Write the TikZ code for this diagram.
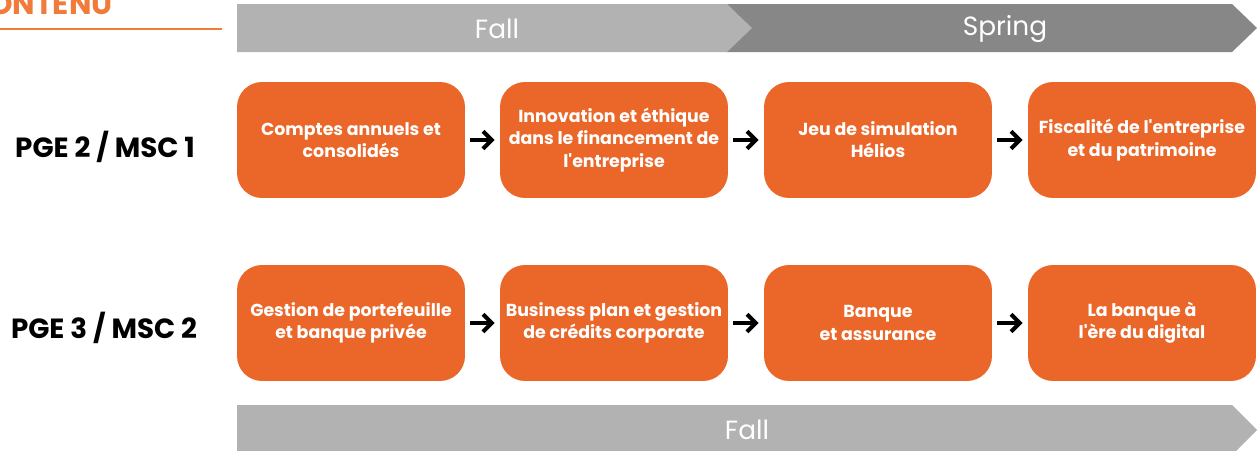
\documentclass[tikz,border=0pt]{standalone}
\usepackage{fontspec}
\setmainfont{Poppins}
\usetikzlibrary{arrows.meta}
\definecolor{boxorange}{HTML}{EA6629}
\definecolor{titleorange}{HTML}{F07B3B}
\definecolor{fallgray}{HTML}{B2B2B2}
\definecolor{springgray}{HTML}{878787}
\newcommand{\apos}{\textquotesingle}
\begin{document}
\begin{tikzpicture}[x=0.02cm, y=-0.02cm,
   box_style/.style={rectangle, rounded corners=0.5cm, fill=boxorange, text=white,
     minimum width=4.56cm, minimum height=2.32cm, align=center,
     font=\fontsize{9.9}{12.6}\selectfont\bfseries, inner sep=1pt},
   row_style/.style={font=\fontsize{15.8}{18}\selectfont\bfseries, text=black},
   bar_text/.style={text=white, font=\fontsize{15}{18}\selectfont},
   arrow_style/.style={draw=black, line width=2.3pt, shorten <=0.1cm, shorten >=0.1cm,
     -{Straight Barb[length=5pt, width=10pt, line width=2.3pt]}}]
	  \useasboundingbox (0,0) rectangle (1257,450);

	  % title
	  \node [anchor=base east, text=titleorange, font=\fontsize{17}{20}\selectfont\bfseries, inner sep=0pt] (title) at (113,14) {CONTENU};
	  \draw [titleorange, line width=1.7pt] (0,29) -- (222,29);

	  % semesters
	  \fill [fallgray] (237,4) -- (727,4) -- (752,28) -- (727,52) -- (237,52) -- cycle;
	  \fill [springgray] (727,4) -- (1232,4) -- (1257,28) -- (1232,52) -- (727,52) -- (752,28) -- cycle;
	  \node [bar_text] (fall1) at (497,29) {Fall};
	  \node [bar_text] (spring) at (1005,29) {Spring};
	  \fill [fallgray] (237,405) -- (1232,405) -- (1257,430) -- (1232,455) -- (237,455) -- cycle;
	  \node [bar_text] (fall2) at (747,430) {Fall};

	  % rows
	  \node [row_style] (r1) at (105,147) {PGE 2 / MSC 1};
	  \node [row_style] (r2) at (104,328) {PGE 3 / MSC 2};

	  \node [box_style] (a1) at (351,140) {Comptes annuels et\\consolidés};
	  \node [box_style] (a2) at (614,140) {Innovation et éthique\\dans le financement de\\l\apos entreprise};
	  \node [box_style] (a3) at (878,140) {Jeu de simulation\\Hélios};
	  \node [box_style] (a4) at (1142,140) {Fiscalité de l\apos entreprise\\et du patrimoine};

	  \node [box_style] (b1) at (351,323) {Gestion de portefeuille\\et banque privée};
	  \node [box_style] (b2) at (614,323) {Business plan et gestion\\de crédits corporate};
	  \node [box_style] (b3) at (878,323) {Banque\\et assurance};
	  \node [box_style] (b4) at (1142,323) {La banque à\\l\apos ère du digital};

	  \foreach \from/\to in {a1/a2, a2/a3, a3/a4, b1/b2, b2/b3, b3/b4}
	    \draw [arrow_style] (\from) -- (\to);

	\end{tikzpicture}
\end{document}
